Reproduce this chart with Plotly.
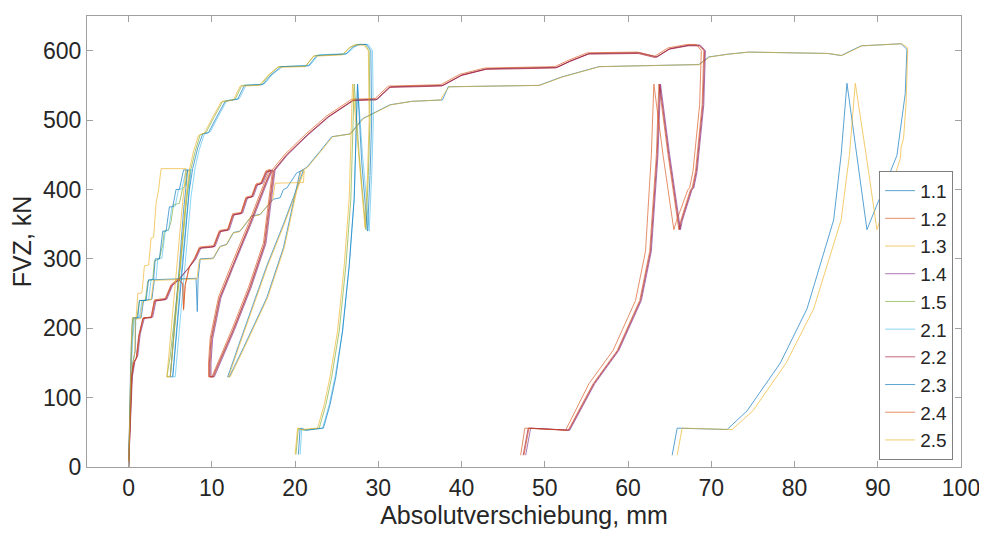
import plotly.graph_objects as go

# ---- data: (Absolutverschiebung mm, FVZ kN) pairs ----
s11 = [(0,0),(0.2,90),(0.5,150),(0.8,168),(0.85,215),(1.5,215),(1.8,240),(2.8,242),(3.1,270),(8.1,272),(8.25,224),(8.35,272),(8.6,300),(10.2,301),(11.0,318),(11.8,321),(12.6,338),(13.4,340),(14.8,362),(15.8,364),(17.4,386),(18.2,388),(18.6,400),(19.0,402),(20.2,424),(21.0,428),
       (20.0,395),(18.6,350),(16.6,290),(14.8,230),(13.2,175),(12.2,140),(11.9,130),(12.1,130),
       (13.8,172),(16.6,244),(18.6,316),(20.6,426),(21.4,432),
       (23.0,455),(24.4,476),(26.6,480),(28.1,502),(31.4,522),(34.0,527),(37.7,529),(38.4,548),(49.3,550),(52.0,562),(56.5,577),(68.5,580),(69.7,591),(72.0,595),(74.5,598),(84.0,596),(85.6,593),(88.0,607),(92.8,610),(93.5,602),(93.3,538),(92.3,449),(88.7,342),
       (87.5,450),(86.3,553),
       (85.6,450),(84.7,356),(81.5,228),(78.3,150),(74.3,81),(71.9,54),(65.9,56),(65.3,17)]

s12 = [(0,0),(0.2,80),(0.4,130),(0.7,152),(1.0,158),(1.3,190),(1.8,215),(2.8,216),(3.2,240),(4.5,242),(5.2,262),(6.0,270),(6.5,264),(6.6,228),(6.8,262),(7.3,288),(8.0,300),(8.6,316),(10.3,318),(11.0,340),(12.0,342),(12.6,364),(13.6,366),(14.2,388),(14.9,390),(15.4,407),(16.0,409),(16.6,426),(17.2,428),
       (16.6,412),(14.6,350),(12.6,292),(11.0,244),(10.0,185),(9.8,150),(9.8,130),(10.2,130),
       (12.6,197),(14.6,258),(16.4,322),(17.0,380),(17.5,428),
       (19.0,450),(21.5,479),(24.0,505),(27.0,529),(29.8,530),(31.4,548),(37.7,550),(40.0,565),(43.0,574),(51.4,576),(53.0,585),(55.3,596),(61.3,597),(63.4,591),(65.0,603),(67.3,608),(68.5,608),(69.1,600),(68.9,522),(68.1,426),(67.7,402),(67.5,400),(66.3,354),(66.1,342),
       (64.8,450),(63.7,552),
       (63.4,450),(62.6,311),(61.4,240),(58.7,168),(55.8,120),(52.8,53),(48.1,56),(47.5,17)]

s13 = [(0,0),(0.2,85),(0.45,145),(0.75,165),(0.8,213),(1.4,214),(1.7,239),(2.7,241),(3.0,269),(8.2,271),(8.5,299),(10.1,300),(10.9,317),(11.7,320),(12.5,337),(13.3,339),(14.7,361),(15.7,363),(17.3,385),(17.6,409),(21.0,410),(21.1,427),
       (20.1,395),(18.7,350),(16.7,290),(14.9,230),(13.3,175),(12.3,140),(12.0,130),(12.2,130),
       (13.9,172),(16.7,244),(18.7,316),(20.7,426),(21.5,432),
       (23.1,455),(24.5,476),(26.7,480),(28.2,502),(31.5,522),(34.1,527),(37.5,529),(37.8,536),(38.5,548),(49.4,550),(52.1,562),(56.6,577),(68.6,580),(69.8,591),(72.1,595),(74.6,598),(84.1,596),(85.7,593),(88.1,607),(92.9,610),(93.6,604),(93.4,523),(93.1,474),(92.8,460),(92.7,444),(91.9,415),(89.9,342),
       (88.6,450),(87.3,553),
       (86.6,450),(85.6,356),(82.3,228),(79.0,150),(75.0,81),(72.5,54),(66.5,56),(65.9,17)]

s14 = [(0,0),(0.2,70),(0.45,130),(0.8,155),(1.1,160),(1.4,192),(1.9,215),(2.9,216),(3.3,240),(4.6,242),(5.3,262),(6.1,270),(7.4,290),(8.1,300),(8.7,316),(10.4,318),(11.1,340),(12.1,342),(12.7,364),(13.7,366),(14.3,388),(15.0,390),(15.5,407),(16.1,409),(16.7,426),(17.3,428),
       (16.7,412),(14.7,350),(12.7,292),(11.1,244),(10.1,185),(9.9,150),(9.9,130),(10.3,130),
       (12.7,197),(14.7,258),(16.5,322),(17.1,380),(17.6,428),
       (19.1,450),(21.6,479),(24.1,505),(27.1,529),(29.9,530),(31.5,548),(37.8,550),(40.1,565),(43.1,574),(51.5,576),(53.1,585),(55.4,596),(61.4,597),(63.5,591),(65.1,603),(67.4,608),(68.7,608),(69.3,600),(69.1,522),(68.3,426),(67.9,402),(67.7,400),(66.5,354),(66.3,342),
       (65.0,450),(63.9,552),
       (63.6,450),(62.8,311),(61.6,240),(58.9,168),(56.0,120),(53.0,53),(48.3,56),(47.7,17)]

s15 = [(0,0),(0.1,70),(0.25,130),(0.4,180),(0.6,215),(1.0,215),(1.3,240),(2.0,240),(2.3,268),(2.9,270),(3.1,297),(3.7,300),(4.1,321),(4.3,340),(4.8,342),(5.1,354),(5.4,378),(6.1,380),(6.5,402),(6.8,405),(7.0,426),(7.4,428),
       (6.8,370),(6.2,290),(5.6,220),(5.0,160),(4.6,130),(5.0,130),
       (5.6,210),(6.3,300),(7.0,390),(7.5,430),
       (8.0,455),(8.6,479),(9.3,482),(10.3,505),(11.3,527),(12.8,530),(13.6,550),(15.9,551),(16.9,565),(18.0,577),(21.3,578),(22.3,593),(25.8,595),(26.6,605),(27.3,609),(28.4,609),(28.9,600),(29.0,500),(28.8,420),(28.5,342),
       (27.7,450),(27.1,552),
       (26.9,470),(26.7,387),(26.1,290),(25.3,196),(24.4,130),(23.7,90),(22.9,56),(20.9,53),(20.4,56),(20.1,18)]

s21 = [(0,0),(0.15,70),(0.3,140),(0.5,185),(0.7,215),(1.3,216),(1.6,240),(2.4,241),(2.7,270),(3.3,271),(3.5,300),(4.0,301),(4.4,340),(4.8,341),(5.2,375),(5.6,376),(6.0,400),(6.4,401),(6.9,428),(7.5,429),
       (7.0,370),(6.4,290),(5.9,220),(5.5,160),(5.3,130),(5.6,130),
       (6.1,200),(6.8,300),(7.5,390),(8.0,432),
       (8.5,458),(9.1,480),(9.8,483),(10.8,506),(11.8,528),(13.3,531),(14.1,550),(16.3,552),(17.3,566),(18.5,577),(21.8,579),(22.8,594),(26.3,596),(27.1,605),(27.8,609),(28.8,609),(29.3,600),(29.4,500),(29.2,420),(28.9,340),
       (28.1,450),(27.5,552),
       (27.3,470),(27.1,387),(26.5,290),(25.7,196),(24.8,130),(24.1,90),(23.3,56),(21.3,53),(20.8,56),(20.6,18)]

s22 = [(0,0),(0.15,75),(0.35,130),(0.6,150),(0.9,156),(1.2,188),(1.7,214),(2.7,215),(3.1,239),(4.4,241),(5.1,261),(5.9,269),(7.2,287),(7.9,299),(8.5,315),(10.2,317),(10.9,339),(11.9,341),(12.5,363),(13.5,365),(14.1,387),(14.8,389),(15.3,406),(15.9,408),(16.5,425),(17.1,427),
       (16.5,411),(14.5,349),(12.5,291),(10.9,243),(9.9,184),(9.7,150),(9.7,130),(10.1,130),
       (12.5,196),(14.5,257),(16.3,321),(16.9,379),(17.4,427),
       (18.9,449),(21.4,478),(23.9,504),(26.9,528),(29.7,529),(31.3,547),(37.6,549),(39.9,564),(42.9,573),(51.3,575),(52.9,584),(55.2,595),(61.2,596),(63.3,590),(64.9,602),(67.2,607),(68.6,607),(69.2,600),(69.0,522),(68.2,426),(67.8,402),(67.6,400),(66.4,354),(66.2,342),
       (64.9,450),(63.8,552),
       (63.5,450),(62.7,311),(61.5,240),(58.8,168),(55.9,120),(52.9,53),(48.0,56),(47.4,17)]

s23 = [(0,0),(0.1,80),(0.25,150),(0.4,200),(0.5,215),(1.1,215),(1.3,240),(2.1,240),(2.4,270),(3.0,270),(3.2,300),(3.7,300),(4.1,340),(4.5,340),(4.9,375),(5.3,375),(5.7,400),(6.1,400),(6.6,428),(7.1,428),
       (6.6,370),(6.1,290),(5.6,220),(5.2,160),(5.0,130),(5.3,130),
       (5.9,210),(6.6,310),(7.3,400),(7.7,430),
       (8.3,460),(8.9,480),(9.6,482),(10.6,505),(11.6,527),(13.1,530),(13.9,550),(16.1,551),(17.1,565),(18.3,577),(21.6,578),(22.6,593),(26.1,595),(26.9,605),(27.6,609),(28.6,609),(29.1,600),(29.2,500),(29.0,420),(28.7,340),
       (28.0,440),(27.5,552),
       (27.3,470),(27.1,387),(26.5,290),(25.7,196),(24.9,130),(24.2,90),(23.4,56),(21.3,53),(20.6,56),(20.4,18)]

s24 = [(0,0),(0.2,85),(0.4,135),(0.6,150),(0.95,157),(1.25,190),(1.75,215),(2.7,216),(3.1,241),(4.4,243),(5.1,263),(5.9,271),(6.5,265),(6.6,226),(6.8,263),(7.3,289),(7.9,301),(8.5,317),(10.2,319),(10.9,341),(11.9,343),(12.5,365),(13.5,367),(14.1,389),(14.8,391),(15.3,408),(15.9,410),(16.5,427),(17.0,429),
       (16.4,413),(14.4,351),(12.4,293),(10.8,245),(9.8,186),(9.6,150),(9.6,130),(10.0,130),
       (12.4,198),(14.4,259),(16.2,323),(16.8,381),(17.3,429),
       (18.8,451),(21.3,480),(23.8,506),(26.8,530),(29.6,531),(31.2,549),(37.5,551),(39.8,566),(42.8,575),(51.2,577),(52.8,586),(55.1,597),(61.1,598),(63.2,592),(64.8,604),(67.1,609),(68.2,609),(68.8,600),(68.6,522),(67.8,426),(67.4,402),(67.2,400),(65.8,354),(65.5,342),
       (64.2,450),(63.1,552),
       (62.8,450),(62.1,311),(60.9,240),(58.2,168),(55.3,120),(52.5,53),(47.6,56),(47.1,17)]

s25 = [(0,0),(0.1,70),(0.2,130),(0.35,190),(0.45,215),(0.9,215),(1.1,250),(1.6,251),(1.9,290),(2.4,291),(2.7,330),(3.0,331),(3.3,380),(3.6,400),(3.9,430),(6.9,430),
       (6.4,370),(5.8,290),(5.3,220),(4.9,160),(4.6,130),(5.0,130),
       (5.5,200),(6.2,300),(6.9,390),(7.3,428),
       (7.8,455),(8.4,478),(9.1,481),(10.1,504),(11.1,526),(12.6,529),(13.4,549),(15.7,550),(16.7,564),(17.9,576),(21.2,577),(22.2,592),(25.7,594),(26.5,604),(27.2,608),(28.3,608),(28.8,600),(28.9,500),(28.7,420),(28.4,345),
       (27.6,450),(26.9,552),
       (26.7,470),(26.5,387),(25.9,290),(25.1,196),(24.2,130),(23.5,90),(22.7,56),(20.8,54),(20.3,56),(20.0,18)]

series_names = ["1.1", "1.2", "1.3", "1.4", "1.5", "2.1", "2.2", "2.3", "2.4", "2.5"]
series_data = [s11, s12, s13, s14, s15, s21, s22, s23, s24, s25]
series_colors = ["#0072BD", "#D95319", "#EDB120", "#7E2F8E", "#77AC30",
                 "#4DBEEE", "#A2142F", "#0072BD", "#D95319", "#EDB120"]

x_ticks = [0, 10, 20, 30, 40, 50, 60, 70, 80, 90, 100]
y_ticks = [0, 100, 200, 300, 400, 500, 600]

fig = go.Figure()
for name, pts, col in zip(series_names, series_data, series_colors):
    xs = [p[0] for p in pts]
    ys = [p[1] for p in pts]
    fig.add_trace(go.Scatter(x=xs, y=ys, mode="lines", name=name,
                             line=dict(color=col, width=0.9), opacity=0.72))

axis_common = dict(showgrid=False, zeroline=False, showline=True, linecolor="#a0a0a0",
                   linewidth=1, mirror="ticks", ticks="inside", ticklen=6,
                   tickcolor="#a0a0a0", tickfont=dict(size=23, color="#262626"))

fig.update_xaxes(range=[-5, 100], tickvals=x_ticks,
                 title=dict(text="Absolutverschiebung, mm", font=dict(size=25, color="#262626"), standoff=4),
                 **axis_common)
fig.update_yaxes(range=[0, 650], tickvals=y_ticks,
                 title=dict(text="FVZ, kN", font=dict(size=25, color="#262626"), standoff=8),
                 **axis_common)

# page body has an 8px margin, so the figure is a bit smaller and shifted
fig.update_layout(
    width=979, height=528,
    margin=dict(l=79, r=23, t=7, b=69),
    paper_bgcolor="white", plot_bgcolor="white",
    font=dict(family="Liberation Sans, Arial, sans-serif", color="#262626"),
    legend=dict(x=0.991, y=0.016, xanchor="right", yanchor="bottom",
                bgcolor="white", bordercolor="#7f7f7f", borderwidth=1,
                font=dict(size=19), itemwidth=30, tracegroupgap=0),
    showlegend=True,
)

fig.write_html("out.html")
